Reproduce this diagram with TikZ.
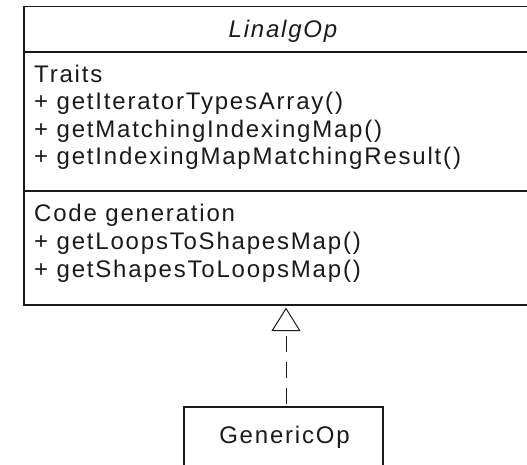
\documentclass[tikz,border=0pt]{standalone}
\usepackage{fontspec}
\setmainfont[LetterSpace=7.5]{Liberation Sans}
\usetikzlibrary{arrows.meta}
\definecolor{ink}{RGB}{26,26,26}
\tikzset{
  umlbox/.style={draw=ink, line width=1.3pt, rectangle, inner sep=0pt, outer sep=0pt, anchor=north west},
  divider/.style={draw=ink, line width=1.3pt},
  member/.style={anchor=base west, inner sep=0pt, text=ink, font=\fontsize{24}{24}\selectfont},
  classname/.style={anchor=base, inner sep=0pt, text=ink, font=\fontsize{24}{24}\selectfont},
  realizes/.style={draw=ink, line width=1pt, dash pattern=on 16pt off 10pt, dash phase=23pt,
    -{Triangle[open, length=23.4pt, width=29pt, line width=1pt]}, shorten >=2.6pt}
}
\begin{document}
\begin{tikzpicture}[x=1pt, y=-1pt]
  \useasboundingbox (0,0) rectangle (527,464);
  \clip (0,0) rectangle (527,464);

  % abstract class LinalgOp with its two method compartments
  \node[umlbox, minimum width=523pt, minimum height=298.5pt] (linalg) at (24,6.5) {};
  \draw[divider] (linalg.west |- 0,52) -- (linalg.east |- 0,52);
  \draw[divider] (linalg.west |- 0,191) -- (linalg.east |- 0,191);
  \node[classname] (linalgname) at (283,37) {\itshape LinalgOp};

  \node[member] (traits) at (34,82) {Traits};
  \node[member] (m1) at (34,109.5) {+ getIteratorTypesArray()};
  \node[member] (m2) at (34,137) {+ getMatchingIndexingMap()};
  \node[member] (m3) at (34,164.5) {+ getIndexingMapMatchingResult()};

  \node[member] (codegen) at (34,221.5) {Code generation};
  \node[member] (m4) at (34,249.5) {+ getLoopsToShapesMap()};
  \node[member] (m5) at (34,277.5) {+ getShapesToLoopsMap()};

  % concrete class GenericOp
  \node[umlbox, minimum width=199pt, minimum height=70pt] (generic) at (184,407) {};
  \node[classname] (genericname) at (284.5,443) {GenericOp};

  % realization: GenericOp implements LinalgOp
  \draw[realizes] ([xshift=2.5pt]generic.north) -- ([xshift=2.5pt]generic.north |- linalg.south);
\end{tikzpicture}
\end{document}
